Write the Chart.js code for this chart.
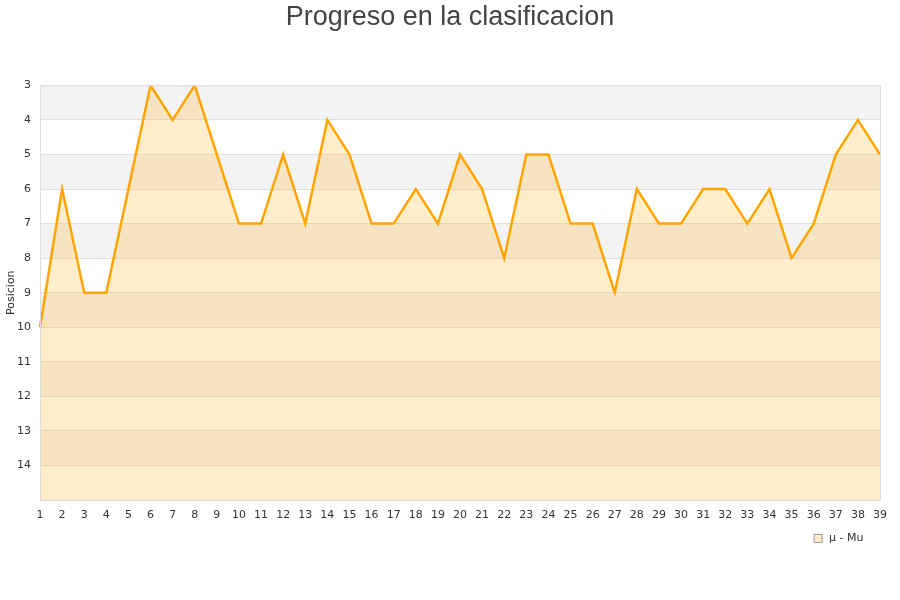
<!DOCTYPE html>
<html>
<head>
<meta charset="utf-8">
<script src="https://cdn.jsdelivr.net/npm/chart.js@4/dist/chart.umd.min.js"></script>
<style>
  html, body { margin: 0; padding: 0; background: #fff; }
  #wrap { width: 900px; height: 600px; }
</style>
</head>
<body>
<div id="wrap"><canvas id="lineGraph" width="900" height="600"></canvas></div>
<script>
var jornadas = [];
for (var j = 1; j <= 39; j++) { jornadas.push(String(j)); }
var posiciones = [10, 6, 9, 9, 6, 3, 4, 3, 5, 7, 7, 5, 7, 4, 5, 7, 7, 6, 7, 5,
                  6, 8, 5, 5, 7, 7, 9, 6, 7, 7, 6, 6, 7, 6, 8, 7, 5, 4, 5];
var serieNombre = 'μ - Mu';
var posMin = 3;
var posMax = 15;

// grey bands behind the plot + frame around it
var bandas = {
    id: 'bandas',
    beforeDraw: function(chart) {
        var ctx = chart.ctx, area = chart.chartArea, y = chart.scales.y;
        ctx.save();
        ctx.fillStyle = '#f3f3f3';
        for (var v = posMin; v < posMax; v += 2) {
            var top = y.getPixelForValue(v), bottom = y.getPixelForValue(v + 1);
            ctx.fillRect(area.left, top, area.right - area.left, bottom - top);
        }
        ctx.restore();
    },
    afterDatasetsDraw: function(chart) {
        var ctx = chart.ctx, area = chart.chartArea;
        ctx.save();
        ctx.strokeStyle = '#dcdcdc';
        ctx.lineWidth = 1;
        ctx.strokeRect(area.left + 0.5, area.top + 0.5, area.right - area.left, area.bottom - area.top);
        ctx.restore();
    }
};

var ctx = document.getElementById('lineGraph').getContext('2d');
var chart = new Chart(ctx, {
    type: 'line',
    data: {
        labels: jornadas,
        datasets: [{
            label: serieNombre,
            data: posiciones,
            borderColor: '#ffa500',
            backgroundColor: 'rgba(255, 165, 0, 0.2)',
            borderWidth: 2.5,
            pointRadius: 0,
            tension: 0,
            fill: 'start'
        }]
    },
    options: {
        responsive: false,
        animation: false,
        layout: { padding: { top: 1, right: 0, bottom: 46, left: 0 } },
        plugins: {
            title: {
                display: true,
                text: 'Progreso en la clasificacion',
                color: '#444',
                font: { family: 'Liberation Sans', size: 27, weight: 'normal' },
                padding: { top: 0, bottom: 52 }
            },
            legend: {
                position: 'bottom',
                align: 'end',
                fullSize: false,
                labels: {
                    usePointStyle: true,
                    pointStyle: 'rect',
                    boxWidth: 11,
                    boxHeight: 8,
                    padding: 11,
                    color: '#333',
                    font: { family: 'DejaVu Sans', size: 11 },
                    generateLabels: function(c) {
                        var items = Chart.defaults.plugins.legend.labels.generateLabels(c);
                        items.forEach(function(it) {
                            it.text = it.text + '\u2002';
                            it.fillStyle = '#ffeccc';
                            it.strokeStyle = '#999';
                            it.lineWidth = 1;
                        });
                        return items;
                    }
                }
            },
            tooltip: { enabled: false }
        },
        scales: {
            x: {
                offset: false,
                afterFit: function(scale) { scale.height = 22; },
                grid: { display: false, drawTicks: false },
                border: { display: false },
                ticks: {
                    color: '#333',
                    autoSkip: false,
                    maxRotation: 0,
                    padding: 9,
                    font: { family: 'DejaVu Sans', size: 11 }
                }
            },
            y: {
                reverse: true,
                min: posMin,
                max: posMax,
                afterFit: function(scale) { scale.width = 40; },
                title: {
                    display: true,
                    text: 'Posicion',
                    color: '#333',
                    padding: { top: 5, bottom: 0 },
                    font: { family: 'DejaVu Sans', size: 11 }
                },
                grid: { color: '#e0e0e0', drawTicks: false },
                border: { display: false },
                ticks: {
                    stepSize: 1,
                    padding: 9,
                    color: '#333',
                    font: { family: 'DejaVu Sans', size: 11 },
                    callback: function(v) { return v === posMax ? '' : v; }
                }
            },
            derecha: {
                position: 'right',
                display: true,
                afterFit: function(scale) { scale.width = 20; },
                grid: { display: false, drawTicks: false },
                border: { display: false },
                ticks: { display: false }
            }
        }
    },
    plugins: [bandas]
});
</script>
</body>
</html>
